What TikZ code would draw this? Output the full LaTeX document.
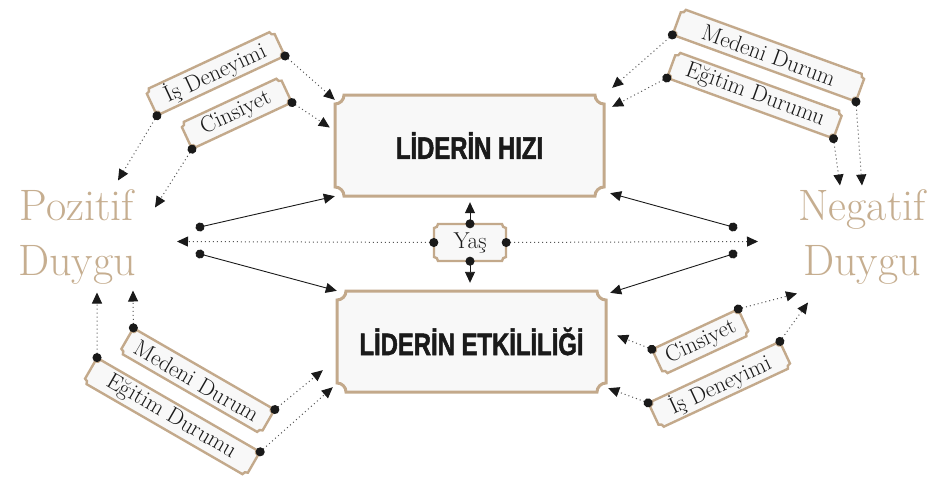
\documentclass[tikz,border=0pt]{standalone}
\usepackage{fontspec}
\usepackage{tikz}
\usetikzlibrary{arrows.meta,calc}
\definecolor{tan}{HTML}{C3A98B}
\definecolor{softtan}{HTML}{C6AE90}
\definecolor{paper}{HTML}{F8F8F8}
\definecolor{ink}{HTML}{1A1A1A}
\definecolor{dotgray}{HTML}{555555}
\newfontfamily\condfont[FakeStretch=0.77,FakeBold=1.6]{Liberation Sans}
\newcommand{\ticketpath}[3]{(-#1,#2-#3) arc[start angle=270,end angle=360,radius=#3] -- (#1-#3,#2) arc[start angle=180,end angle=270,radius=#3] -- (#1,-#2+#3) arc[start angle=90,end angle=180,radius=#3] -- (-#1+#3,-#2) arc[start angle=0,end angle=90,radius=#3] -- cycle}
\newcommand{\ticketbox}[8]{\begin{scope}[shift={(#3)},rotate=#4]
\filldraw[#1line] \ticketpath{#5pt/2}{#6pt/2}{#7pt};
\node[#1text,minimum width=#5pt,minimum height=#6pt,transform shape] (#2) at (0,0) {#8};
\end{scope}}
\tikzset{tagline/.style={draw=tan,fill=paper,line width=2.4pt},tagtext/.style={inner sep=0pt,text=ink,font=\addfontfeatures{FakeBold=0.8}\fontsize{23}{25}\selectfont},mainline/.style={draw=tan,fill=paper,line width=3pt},maintext/.style={inner sep=0pt,text=ink,font=\condfont\bfseries\fontsize{31}{33}\selectfont},mood/.style={text=softtan,align=center,inner sep=0pt,font=\addfontfeatures{FakeBold=1.5}\fontsize{44}{55}\selectfont},dotarr/.style={draw=dotgray,line width=1pt,dash pattern=on 1pt off 3pt,{Circle[length=9pt,color=ink]}-{Triangle[length=11pt,width=10pt,color=ink]},shorten <=-4.5pt},solarr/.style={draw=ink,line width=0.9pt,{Circle[length=9pt]}-{Triangle[length=11pt,width=10pt]},shorten <=-4.5pt}}
\begin{document}
\begin{tikzpicture}[x=1pt,y=-1pt]
\fill[white] (0,0) rectangle (934,477);
\ticketbox{main}{hiz}{469.5,145.5}{0}{269}{101}{9}{LİDERİN HIZI}
\ticketbox{main}{etk}{471.5,341.5}{0}{269}{101}{9}{LİDERİN ETKİLİLİĞİ}
\ticketbox{tag}{yas}{470,242.5}{0}{72}{37}{4}{Yaş}
\ticketbox{tag}{isdL}{215,73}{25}{141}{28}{4}{İş Deneyimi}
\ticketbox{tag}{cinL}{236,113}{25}{110}{28}{4}{Cinsiyet}
\ticketbox{tag}{medR}{769,55}{-20}{195}{28}{4}{Medeni Durum}
\ticketbox{tag}{egtR}{755,95}{-20}{177}{28}{4}{Eğitim Durumu}
\ticketbox{tag}{medL}{197,381}{-30}{163}{28}{4}{Medeni Durum}
\ticketbox{tag}{egtL}{171.5,417}{-30}{188}{28}{4}{Eğitim Durumu}
\ticketbox{tag}{cinR}{701,342}{25}{95}{28}{4}{Cinsiyet}
\ticketbox{tag}{isdR}{720,385}{25}{145}{28}{4}{İş Deneyimi}
\node[mood] (poz) at (77,237.5) {Pozitif\\Duygu};
\node[mood] (neg) at (862,237.5) {Negatif\\Duygu};
\coordinate (lhi) at (200,227);
\coordinate (llo) at (200,254);
\coordinate (rhi) at (733,227);
\coordinate (rlo) at (733,254);
\draw[solarr] (lhi) -- (hiz.south west);
\draw[solarr] (llo) -- (etk.north west);
\draw[solarr] (rhi) -- ([shift={(6,-3)}]hiz.south east);
\draw[solarr] (rlo) -- ([shift={(4,2)}]etk.north east);
\draw[solarr,shorten >=6pt] (yas.north) -- (yas.north |- hiz.south);
\draw[solarr,shorten >=8pt] (yas.south) -- (yas.south |- etk.north);
\draw[dotarr] (yas.west) -- ([shift={(100,4)}]poz.center);
\draw[dotarr] (yas.east) -- ([shift={(-104,4)}]neg.center);
\draw[dotarr] (isdL.south east) -- ([shift={(0,5)}]hiz.north west);
\draw[dotarr] (isdL.south west) -- ([shift={(41,-57)}]poz.center);
\draw[dotarr] (cinL.south east) -- ([shift={(-5,-18)}]hiz.west);
\draw[dotarr] (cinL.south west) -- ([shift={(78,-30)}]poz.center);
\draw[dotarr] (medR.south west) -- ([shift={(8,-7)}]hiz.north east);
\draw[dotarr] (medR.south east) -- ([shift={(0,-52)}]neg.center);
\draw[dotarr] (egtR.south west) -- ([shift={(8,12)}]hiz.north east);
\draw[dotarr] (egtR.south east) -- ([shift={(-22,-52)}]neg.center);
\draw[dotarr] (medL.north west) -- ([shift={(56,53)}]poz.center);
\draw[dotarr] (medL.north east) -- ([shift={(-14,-22)}]etk.south west);
\draw[dotarr] (egtL.north west) -- ([shift={(20,55)}]poz.center);
\draw[dotarr] (egtL.north east) -- ([shift={(-4,-5)}]etk.south west);
\draw[dotarr] (cinR.north west) -- ([shift={(11,-6)}]etk.east);
\draw[dotarr] (cinR.north east) -- ([shift={(-65,56)}]neg.center);
\draw[dotarr] (isdR.north west) -- ([shift={(2,-4)}]etk.south east);
\draw[dotarr] (isdR.north east) -- ([shift={(-54,65)}]neg.center);
\end{tikzpicture}
\end{document}
